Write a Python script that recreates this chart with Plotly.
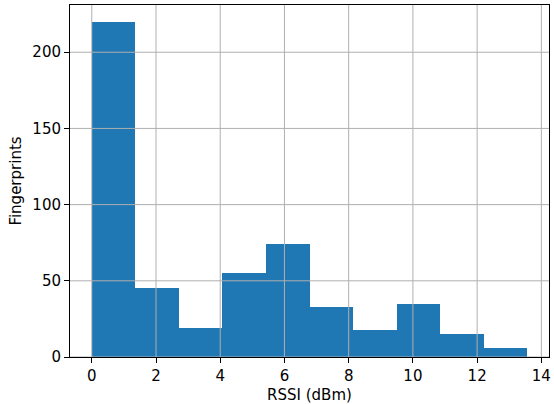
import numpy as np
import plotly.graph_objects as go

# Histogram of RSSI values: 10 equal-width bins between the min and max
rssi_min = 0.0
rssi_max = 13.56
counts = [220, 45, 19, 55, 74, 33, 18, 35, 15, 6]
x_ticks = [0, 2, 4, 6, 8, 10, 12, 14]
y_ticks = [0, 50, 100, 150, 200]

edges = np.linspace(rssi_min, rssi_max, len(counts) + 1)
centers = (edges[:-1] + edges[1:]) / 2
width = edges[1] - edges[0]

span = rssi_max - rssi_min
x_range = [rssi_min - 0.05 * span, rssi_max + 0.05 * span]
y_range = [0, max(counts) * 1.05]

fig = go.Figure()
fig.add_trace(go.Bar(
    x=centers, y=counts, width=width,
    marker=dict(color="#1f77b4", line=dict(width=0)),
    showlegend=False,
))

# Grid lines drawn on top of the bars
grid = dict(color="#b0b0b0", width=1)
shapes = []
for t in x_ticks:
    shapes.append(dict(type="line", xref="x", yref="paper", x0=t, x1=t, y0=0, y1=1,
                       line=grid, layer="above"))
for t in y_ticks:
    shapes.append(dict(type="line", xref="paper", yref="y", x0=0, x1=1, y0=t, y1=t,
                       line=grid, layer="above"))

font = dict(family="DejaVu Sans", size=15, color="black")
axis_common = dict(
    showline=True, linecolor="black", linewidth=1, mirror=True,
    ticks="outside", ticklen=5, tickwidth=1, tickcolor="black",
    showgrid=False, zeroline=False, tickfont=font, automargin=False,
)

fig.update_layout(
    width=554, height=404,
    margin=dict(l=70, r=5, t=5, b=47),
    paper_bgcolor="white", plot_bgcolor="white",
    bargap=0,
    shapes=shapes,
    font=font,
    xaxis=dict(range=x_range, tickvals=x_ticks,
               title=dict(text="RSSI (dBm)", font=font, standoff=5), **axis_common),
    yaxis=dict(range=y_range, tickvals=y_ticks,
               title=dict(text="Fingerprints", font=font, standoff=7), **axis_common),
)

fig.write_html("out.html")
